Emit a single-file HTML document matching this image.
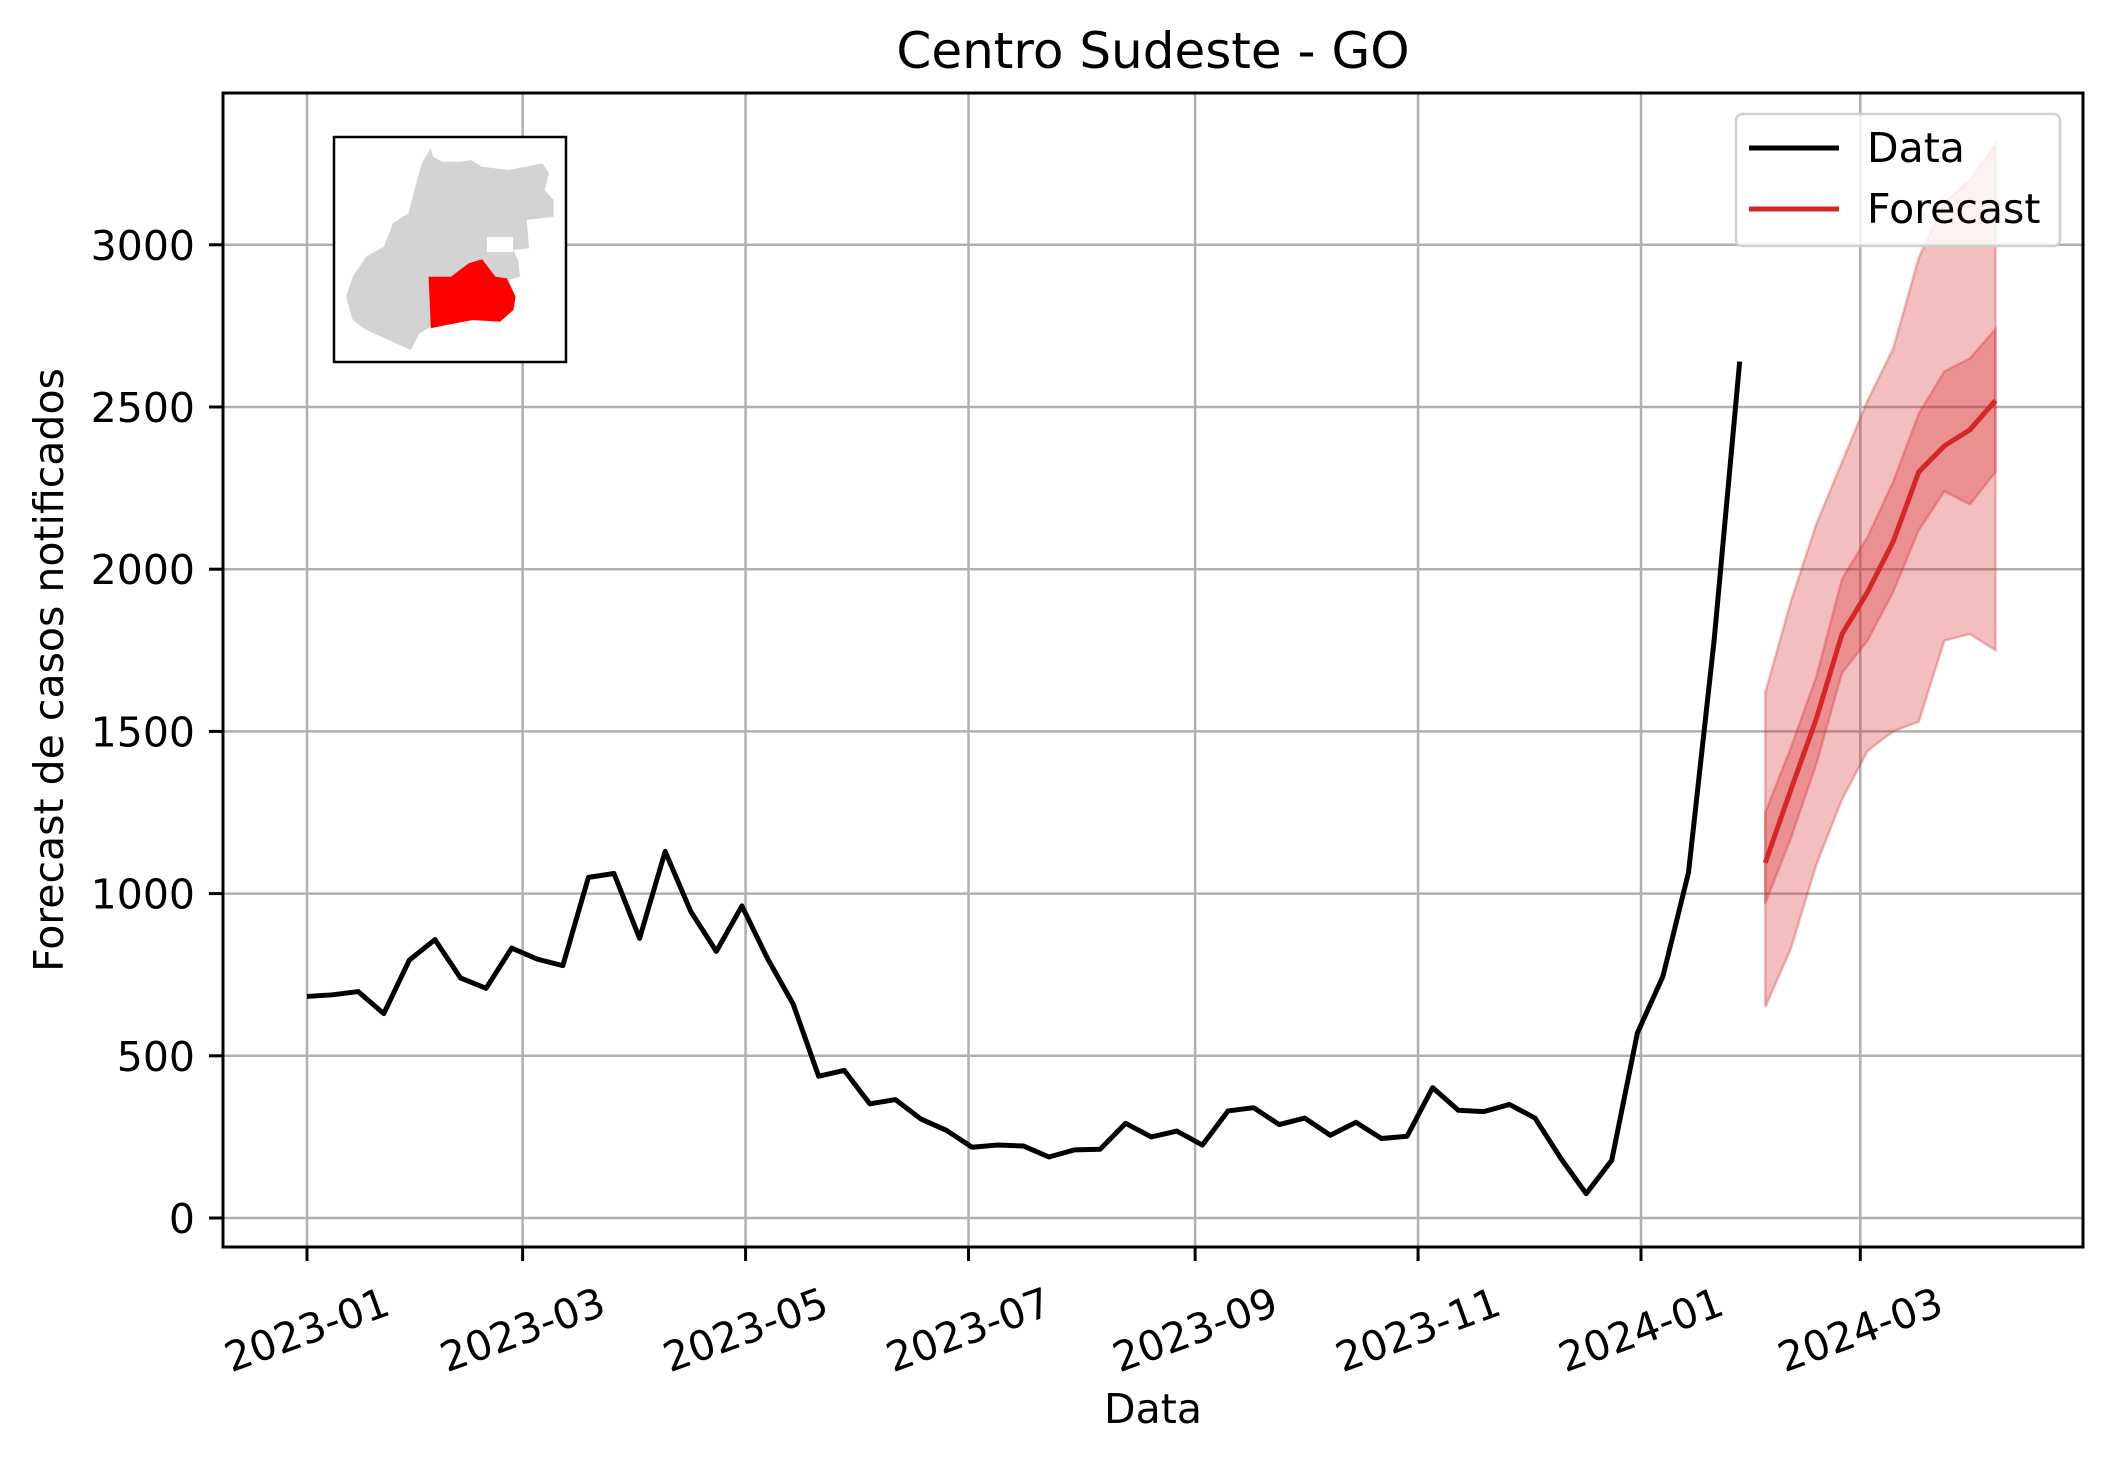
<!DOCTYPE html>
<html><head><meta charset="utf-8"><style>
html,body{margin:0;padding:0;background:#fff;}
svg{display:block;font-family:"DejaVu Sans","Liberation Sans",sans-serif;}
</style></head><body>
<svg id="chart" width="2111" height="1460" viewBox="0 0 2111 1460" xmlns="http://www.w3.org/2000/svg">
<rect width="2111" height="1460" fill="#fff"/>
<g id="grid"></g>
<g id="marks"></g>
<g id="axes"></g>
<text x="1153" y="68" font-size="50" text-anchor="middle">Centro Sudeste - GO</text>
<text x="1153" y="1423" font-size="41" text-anchor="middle">Data</text>
<text transform="translate(63,670) rotate(-90)" font-size="41" text-anchor="middle">Forecast de casos notificados</text>
<g>
<rect x="334" y="137" width="232" height="225" fill="#fff" stroke="#000" stroke-width="2.5"/>
<polygon fill="#d3d3d3" points="430.8,148.3 421.9,163.3 415.2,186.7 408.5,213.3 392.9,223.3 383.9,246.7 366.1,256.7 352.7,276.7 346,296.7 352.7,320 366.1,330 388.4,340 410.7,350 419.6,333.3 430.8,326.7 446.4,325 468.8,320 495.5,321.7 513.4,310 515.6,296.7 508.9,280 520.1,276.7 517.9,260 513.4,250 529,248.3 526.8,220 553.6,216.7 553.6,200 544.6,190 549.1,173.3 542.4,163.3 508.9,170 482.1,166.7 470.9,160 459.8,161.7 442,161.7 433,156.7"/>
<rect x="487" y="237" width="26" height="15" fill="#fff"/>
<polygon fill="#ff0000" points="428.6,276.7 450.9,276.7 468.8,263.3 482.1,259.3 495.5,276.7 506.7,278.3 515.6,296.7 513.4,310 500,321.7 473.2,320 446.4,325 430.8,328.3"/>
</g>
<g>
<rect x="1736" y="114" width="324" height="132" rx="6" fill="#fff" fill-opacity="0.8" stroke="#d0d0d0" stroke-width="2.5"/>
<line x1="1749" y1="148" x2="1839" y2="148" stroke="#000" stroke-width="5"/>
<text x="1867" y="162" font-size="41">Data</text>
<line x1="1749" y1="209" x2="1839" y2="209" stroke="#d62728" stroke-width="5"/>
<text x="1867" y="223" font-size="41">Forecast</text>
</g>
</svg>
<script>
const dataValues = [683,688,698,630,795,858,740,708,832,798,778,1050,1062,862,1130,945,822,962,800,660,437,455,352,365,305,270,218,225,222,188,210,212,292,250,268,225,330,340,288,308,255,295,245,252,402,332,328,350,308,185,75,178,570,745,1065,1780,2640];
const forecastMedian = [1095,1320,1540,1800,1930,2085,2300,2380,2430,2520];
const innerUpper = [1250,1450,1670,1970,2100,2270,2480,2610,2650,2740];
const innerLower = [970,1170,1400,1680,1780,1930,2120,2240,2200,2300];
const outerUpper = [1620,1900,2140,2330,2520,2680,2960,3130,3200,3310];
const outerLower = [650,830,1090,1290,1440,1500,1530,1780,1800,1750];
const dataStartDay = 0;      // days since 2023-01-01
const forecastStartDay = 399;
const stepDays = 7;
const yTicks = [0,500,1000,1500,2000,2500,3000];
const xTickLabels = ["2023-01","2023-03","2023-05","2023-07","2023-09","2023-11","2024-01","2024-03"];
const xTickDays = [0,59,120,181,243,304,365,425];

const L=223,R=2083,T=93,B=1247;
const X=d=>307+d*(1641-307)/365;
const Y=v=>1218-v*162.2/500;
const NS="http://www.w3.org/2000/svg";
function mk(tag,attrs,parent){const e=document.createElementNS(NS,tag);for(const k in attrs)e.setAttribute(k,attrs[k]);parent.appendChild(e);return e;}
const grid=document.getElementById('grid'),marks=document.getElementById('marks'),axes=document.getElementById('axes');

yTicks.forEach(v=>{
  const gl=mk('line',{x1:L,x2:R,y1:Y(v),y2:Y(v),stroke:'#b0b0b0','stroke-width':2.5},grid);
  
  
  mk('line',{x1:L-14,x2:L,y1:Y(v),y2:Y(v),stroke:'#000','stroke-width':3},axes);
  const t=mk('text',{x:L-28,y:Y(v)+15,'font-size':41,'text-anchor':'end'},axes);
  t.textContent=v;
  
  
});
xTickDays.forEach((d,i)=>{
  const x=X(d);
  const gl=mk('line',{x1:x,x2:x,y1:T,y2:B,stroke:'#b0b0b0','stroke-width':2.5},grid);
  
  
  mk('line',{x1:x,x2:x,y1:B,y2:B+14,stroke:'#000','stroke-width':3},axes);
  const t=mk('text',{transform:`translate(${x},${B+83}) rotate(-20)`,'font-size':41,'text-anchor':'middle','dominant-baseline':'central'},axes);
  t.textContent=xTickLabels[i];
  
  
});
mk('rect',{x:L,y:T,width:R-L,height:B-T,fill:'none',stroke:'#000','stroke-width':3},axes);

function band(up,lo,name,op){
  const pts=up.map((v,i)=>X(forecastStartDay+i*stepDays)+','+Y(v));
  for(let i=lo.length-1;i>=0;i--)pts.push(X(forecastStartDay+i*stepDays)+','+Y(lo[i]));
  const p=mk('polygon',{points:pts.join(' '),fill:'#d62728','fill-opacity':op,stroke:'#d62728','stroke-opacity':op,'stroke-width':2.5},marks);
  
  
}
band(outerUpper,outerLower,'forecast-outer-interval',0.3);
band(innerUpper,innerLower,'forecast-inner-interval',0.3);

const dl=mk('polyline',{points:dataValues.map((v,i)=>X(dataStartDay+i*stepDays)+','+Y(v)).join(' '),fill:'none',stroke:'#000','stroke-width':5,'stroke-linejoin':'round'},marks);


const fl=mk('polyline',{points:forecastMedian.map((v,i)=>X(forecastStartDay+i*stepDays)+','+Y(v)).join(' '),fill:'none',stroke:'#d62728','stroke-width':5,'stroke-linejoin':'round'},marks);


</script>
</body></html>
